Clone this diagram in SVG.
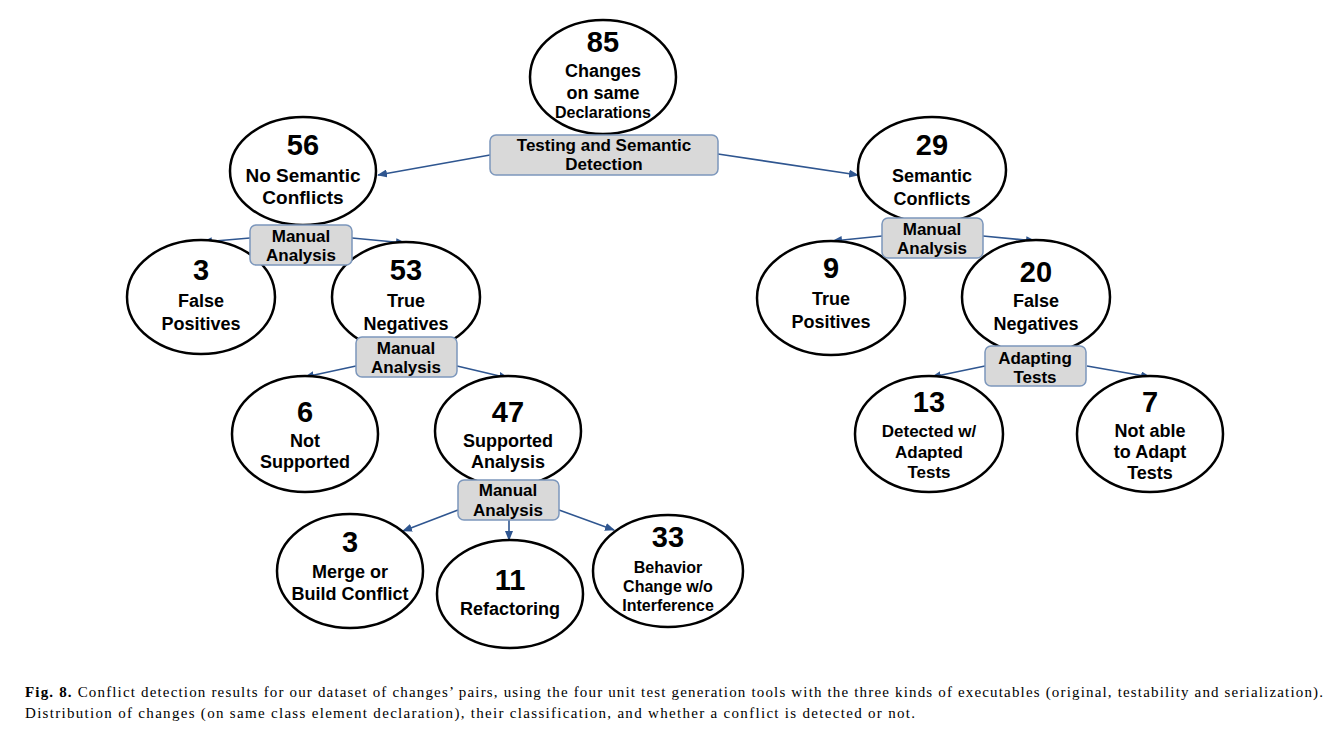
<svg xmlns="http://www.w3.org/2000/svg" width="1335" height="732" viewBox="0 0 1335 732">
<defs>
<marker id="ah" viewBox="0 0 10 8" refX="9" refY="4" markerWidth="10" markerHeight="8" markerUnits="userSpaceOnUse" orient="auto">
<path d="M0,0 L10,4 L0,8 Z" fill="#2F5690"/>
</marker>
</defs>
<style>
.n ellipse{fill:#fff;stroke:#000;stroke-width:2.5}
.b rect{fill:#D9D9D9;stroke:#7C97BC;stroke-width:1.5}
text{font-family:"Liberation Sans",Arial,sans-serif;font-weight:bold;text-anchor:middle;fill:#000}
.num{font-size:29px}
.lb{font-size:18px}
.sm{font-size:16px}
.bt{font-size:17px}
.cap{font-family:"Liberation Serif","Times New Roman",serif;font-weight:normal;text-anchor:start;font-size:15px}
#edges line{stroke:#2F5690;stroke-width:1.6;marker-end:url(#ah)}
</style>
<rect width="1335" height="732" fill="#fff"/>
<g id="edges">
<line x1="490" y1="155" x2="378" y2="175"/>
<line x1="718" y1="154" x2="858" y2="175"/>
<line x1="250" y1="238" x2="203" y2="242"/>
<line x1="352" y1="238" x2="405" y2="243"/>
<line x1="356" y1="366" x2="305" y2="377"/>
<line x1="457" y1="366" x2="508" y2="378"/>
<line x1="458" y1="510" x2="403" y2="531"/>
<line x1="509" y1="520" x2="509" y2="540"/>
<line x1="559" y1="510" x2="614" y2="530"/>
<line x1="882" y1="236" x2="833" y2="241"/>
<line x1="983" y1="236" x2="1035" y2="241"/>
<line x1="985" y1="366" x2="932" y2="377"/>
<line x1="1087" y1="366" x2="1150" y2="377"/>
</g>
<g id="n85" class="n"><ellipse cx="603" cy="77" rx="73" ry="57"/>
<text class="num" x="603" y="52">85</text><text class="lb" x="603" y="77">Changes</text><text class="lb" x="603" y="99">on same</text><text class="sm" x="603" y="118">Declarations</text></g>
<g id="n56" class="n"><ellipse cx="303" cy="171" rx="73" ry="54"/>
<text class="num" x="303" y="155">56</text><text class="lb" x="303" y="182" style="font-size:19px">No Semantic</text><text class="lb" x="303" y="204" style="font-size:19px">Conflicts</text></g>
<g id="n29" class="n"><ellipse cx="932" cy="170" rx="74" ry="53"/>
<text class="num" x="932" y="155">29</text><text class="lb" x="932" y="182">Semantic</text><text class="lb" x="932" y="205">Conflicts</text></g>
<g id="n3fp" class="n"><ellipse cx="201" cy="297" rx="74" ry="57"/>
<text class="num" x="201" y="280">3</text><text class="lb" x="201" y="307">False</text><text class="lb" x="201" y="330">Positives</text></g>
<g id="n53" class="n"><ellipse cx="406" cy="297" rx="74" ry="55"/>
<text class="num" x="406" y="280">53</text><text class="lb" x="406" y="307">True</text><text class="lb" x="406" y="330">Negatives</text></g>
<g id="n9" class="n"><ellipse cx="831" cy="298" rx="74" ry="57"/>
<text class="num" x="831" y="278">9</text><text class="lb" x="831" y="305">True</text><text class="lb" x="831" y="328">Positives</text></g>
<g id="n20" class="n"><ellipse cx="1036" cy="297" rx="74" ry="57"/>
<text class="num" x="1036" y="282">20</text><text class="lb" x="1036" y="307">False</text><text class="lb" x="1036" y="330">Negatives</text></g>
<g id="n6" class="n"><ellipse cx="305" cy="434" rx="73" ry="58"/>
<text class="num" x="305" y="422">6</text><text class="lb" x="305" y="447">Not</text><text class="lb" x="305" y="468">Supported</text></g>
<g id="n47" class="n"><ellipse cx="508" cy="431" rx="73" ry="55"/>
<text class="num" x="508" y="422">47</text><text class="lb" x="508" y="447">Supported</text><text class="lb" x="508" y="468">Analysis</text></g>
<g id="n13" class="n"><ellipse cx="929" cy="434" rx="74" ry="58"/>
<text class="num" x="929" y="412">13</text><text class="sm" x="929" y="437" style="font-size:17px">Detected w/</text><text class="sm" x="929" y="458" style="font-size:17px">Adapted</text><text class="sm" x="929" y="478" style="font-size:17px">Tests</text></g>
<g id="n7" class="n"><ellipse cx="1150" cy="434" rx="73" ry="58"/>
<text class="num" x="1150" y="412">7</text><text class="lb" x="1150" y="437">Not able</text><text class="lb" x="1150" y="458">to Adapt</text><text class="lb" x="1150" y="479">Tests</text></g>
<g id="n3mb" class="n"><ellipse cx="350" cy="571" rx="73" ry="57"/>
<text class="num" x="350" y="552">3</text><text class="lb" x="350" y="578">Merge or</text><text class="lb" x="350" y="600">Build Conflict</text></g>
<g id="n11" class="n"><ellipse cx="510" cy="594" rx="73" ry="54"/>
<text class="num" x="510" y="590">11</text><text class="lb" x="510" y="615">Refactoring</text></g>
<g id="n33" class="n"><ellipse cx="668" cy="571" rx="75" ry="56"/>
<text class="num" x="668" y="547">33</text><text class="sm" x="668" y="573">Behavior</text><text class="sm" x="668" y="592">Change w/o</text><text class="sm" x="668" y="611">Interference</text></g>
<g id="bTest" class="b"><rect x="490" y="135" width="228" height="40" rx="6"/>
<text class="bt" x="604" y="151">Testing and Semantic</text><text class="bt" x="604" y="170">Detection</text></g>
<g id="bM1" class="b"><rect x="250" y="225" width="102" height="40" rx="6"/>
<text class="bt" x="301" y="242">Manual</text><text class="bt" x="301" y="261">Analysis</text></g>
<g id="bM2" class="b"><rect x="882" y="218" width="101" height="40" rx="6"/>
<text class="bt" x="932" y="235">Manual</text><text class="bt" x="932" y="254">Analysis</text></g>
<g id="bM3" class="b"><rect x="356" y="337" width="101" height="40" rx="6"/>
<text class="bt" x="406" y="354">Manual</text><text class="bt" x="406" y="373">Analysis</text></g>
<g id="bM4" class="b"><rect x="458" y="480" width="101" height="40" rx="6"/>
<text class="bt" x="508" y="496">Manual</text><text class="bt" x="508" y="516">Analysis</text></g>
<g id="bAd" class="b"><rect x="985" y="346" width="101" height="40" rx="6"/>
<text class="bt" x="1035" y="364">Adapting</text><text class="bt" x="1035" y="383">Tests</text></g>
<text class="cap" x="25" y="697" textLength="1298" lengthAdjust="spacing"><tspan font-weight="bold">Fig. 8.</tspan>  Conflict detection results for our dataset of changes’ pairs, using the four unit test generation tools with the three kinds of executables (original, testability and serialization).</text>
<text class="cap" x="25" y="718" textLength="890" lengthAdjust="spacing">Distribution of changes (on same class element declaration), their classification, and whether a conflict is detected or not.</text>
</svg>
